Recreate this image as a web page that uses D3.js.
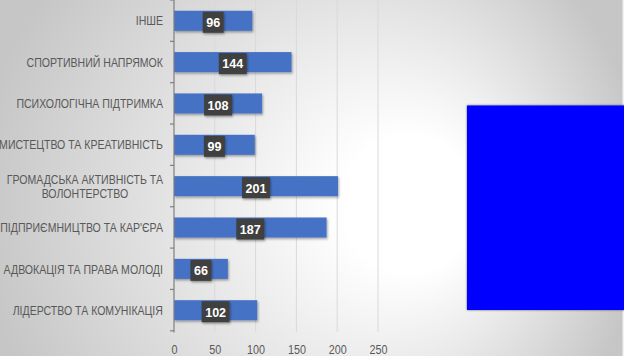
<!DOCTYPE html>
<html>
<head>
<meta charset="utf-8">
<script src="https://cdn.jsdelivr.net/npm/d3@7"></script>
<style>
  html, body { margin: 0; padding: 0; overflow: hidden; }
  svg { display: block; }
</style>
</head>
<body>
<script>
// ---- Data ----
const categories = [
  ["ІНШЕ "],
  ["СПОРТИВНИЙ НАПРЯМОК"],
  ["ПСИХОЛОГІЧНА ПІДТРИМКА"],
  ["МИСТЕЦТВО ТА КРЕАТИВНІСТЬ"],
  ["ГРОМАДСЬКА АКТИВНІСТЬ ТА", "ВОЛОНТЕРСТВО"],
  ["ПІДПРИЄМНИЦТВО ТА КАР'ЄРА"],
  ["АДВОКАЦІЯ ТА ПРАВА МОЛОДІ"],
  ["ЛІДЕРСТВО ТА КОМУНІКАЦІЯ"]
];
const values = [96, 144, 108, 99, 201, 187, 66, 102];
const xTicks = [0, 50, 100, 150, 200, 250];

const W = 624, H = 356;
const FONT = "'Liberation Sans', Arial, sans-serif";
const svg = d3.select("body").append("svg").attr("width", W).attr("height", H);
const defs = svg.append("defs");

// background gradient
const rg = defs.append("radialGradient").attr("id", "bg")
  .attr("gradientUnits", "userSpaceOnUse")
  .attr("cx", 310).attr("cy", 200).attr("r", 335)
  .attr("fx", 435).attr("fy", 205);
rg.append("stop").attr("offset", 0).attr("stop-color", "#ffffff");
rg.append("stop").attr("offset", 0.2).attr("stop-color", "#ffffff");
rg.append("stop").attr("offset", 1).attr("stop-color", "#c6c6c6");

const sh = defs.append("filter").attr("id", "shadow").attr("x", "-20%").attr("y", "-40%").attr("width", "140%").attr("height", "180%");
sh.append("feDropShadow").attr("dx", 1).attr("dy", 1.5).attr("stdDeviation", 1.2).attr("flood-color", "#000").attr("flood-opacity", 0.35);
const sh2 = defs.append("filter").attr("id", "shadow2").attr("x", "-10%").attr("y", "-10%").attr("width", "120%").attr("height", "120%");
sh2.append("feDropShadow").attr("dx", 0).attr("dy", 0).attr("stdDeviation", 1.3).attr("flood-color", "#000").attr("flood-opacity", 0.6);

svg.append("rect").attr("width", W).attr("height", H).attr("fill", "url(#bg)");
svg.append("rect").attr("x", 622.5).attr("y", 0).attr("width", 1.5).attr("height", H).attr("fill", "#f2f2f2");

// scales
const x = d3.scaleLinear().domain([0, 250]).range([174, 378]);
const y = d3.scaleBand().domain(d3.range(categories.length)).range([0, 331])
  .paddingInner(0.515).paddingOuter(0.26);
const step = y.step();

// gridlines
svg.append("g").selectAll("line").data(xTicks.slice(1)).join("line")
  .attr("x1", d => x(d)).attr("x2", d => x(d))
  .attr("y1", 0).attr("y2", 332)
  .attr("stroke", "#d9d9d9").attr("stroke-width", 1);

// x tick labels via axis (condensed by horizontal scaling)
const xAxis = svg.append("g").attr("transform", "translate(0,332)")
  .call(d3.axisBottom(x).tickValues(xTicks).tickSize(0).tickPadding(0));
xAxis.select(".domain").remove();
const tickTexts = xAxis.selectAll("text")
  .attr("fill", "#595959")
  .style("font-family", FONT)
  .style("font-size", "13.5px")
  .attr("y", 0).attr("dy", "0.36em");
const w100 = tickTexts.filter(d => d === 100).node().getComputedTextLength();
const kx = 18 / w100;
tickTexts.attr("transform", `translate(0,17) scale(${kx},1)`);

// bars
svg.append("g").selectAll("rect").data(values).join("rect")
  .attr("x", x(0)).attr("y", (d, i) => y(i))
  .attr("width", d => x(d) - x(0)).attr("height", y.bandwidth())
  .attr("fill", "#4472c4")
  .attr("filter", "url(#shadow)");

// left axis line & ticks
svg.append("line").attr("x1", 174).attr("x2", 174).attr("y1", 0).attr("y2", 332.5)
  .attr("stroke", "#7f7f7f").attr("stroke-width", 1.2);
svg.append("g").selectAll("line").data(d3.range(categories.length + 1)).join("line")
  .attr("x1", 170).attr("x2", 174)
  .attr("y1", i => Math.min(i * step, 332)).attr("y2", i => Math.min(i * step, 332))
  .attr("stroke", "#7f7f7f").attr("stroke-width", 1.2);

// category labels (condensed to match the narrow original face)
const lab = svg.append("g")
  .style("font-family", FONT)
  .style("font-size", "13px").attr("fill", "#595959")
  .style("white-space", "pre");
const probe = lab.append("text").text("МИСТЕЦТВО ТА КРЕАТИВНІСТЬ");
const kc = 164 / probe.node().getComputedTextLength();
probe.remove();
categories.forEach((lines, i) => {
  const cy = y(i) + y.bandwidth() / 2;
  const g = lab.append("g");
  const texts = lines.map((t, k) => g.append("text")
    .attr("x", 0)
    .attr("y", cy + (k - (lines.length - 1) / 2) * 14.5)
    .attr("dy", "0.36em").attr("text-anchor", "middle").text(t));
  const maxW = d3.max(texts, t => t.node().getComputedTextLength()) * kc;
  g.attr("transform", `translate(${163 - maxW / 2},0) scale(${kc},1)`);
});

// data labels
const dl = svg.append("g");
const kd = 0.93;
values.forEach((v, i) => {
  const cx = (x(0) + x(v)) / 2;
  const cy = y(i) + y.bandwidth() / 2 + 1.5;
  const g = dl.append("g");
  const box = g.append("rect").attr("fill", "#404040").attr("filter", "url(#shadow)");
  const t = g.append("text").attr("x", 0).attr("y", cy).attr("dy", "0.36em")
    .attr("text-anchor", "middle").attr("fill", "#ffffff")
    .attr("transform", `translate(${cx},0) scale(${kd},1)`)
    .style("font-family", FONT)
    .style("font-weight", "bold").style("font-size", "13.5px").text(v);
  const w = t.node().getComputedTextLength() * kd + 7;
  box.attr("x", cx - w / 2).attr("y", cy - 10.5).attr("width", w).attr("height", 21);
});

// blue rectangle
svg.append("rect").attr("x", 467).attr("y", 105.5).attr("width", 160).attr("height", 204.5)
  .attr("fill", "#0000ff").attr("filter", "url(#shadow2)");
</script>
</body>
</html>
